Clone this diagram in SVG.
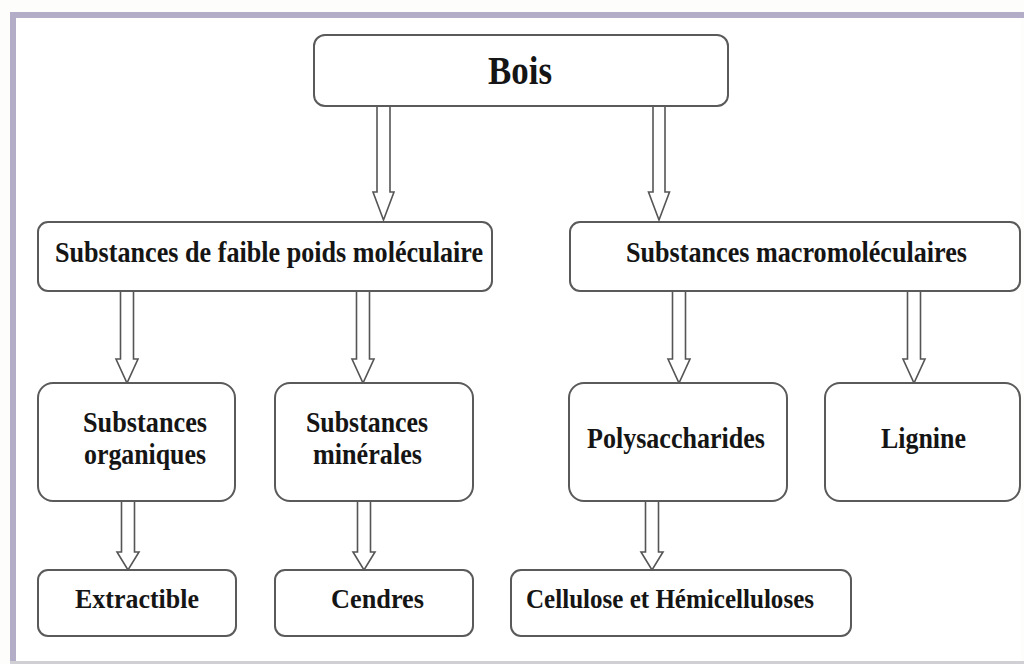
<svg xmlns="http://www.w3.org/2000/svg" width="1024" height="664" viewBox="0 0 1024 664">
  <defs>
    <style>
      .box { fill: #ffffff; stroke: #5a5a5a; stroke-width: 2; }
      .arrow { fill: #ffffff; stroke: #555555; stroke-width: 1.6; stroke-linejoin: miter; }
      .t { font-family: "Liberation Serif", "Times New Roman", serif; font-weight: bold; fill: #151515; text-anchor: middle; }
      .t1 { font-size: 41px; }
      .t2 { font-size: 30px; }
      .t3 { font-size: 30px; }
      .t4 { font-size: 28px; }
    </style>
  </defs>
  <rect x="0" y="0" width="1024" height="664" fill="#fdfdfb"/>
  <g id="frame">
    <rect x="13" y="15" width="1008" height="647" fill="#ffffff"/>
    <line x1="10" y1="15" x2="1024" y2="15" stroke="#b3adc8" stroke-width="6"/>
    <line x1="13" y1="12" x2="13" y2="664" stroke="#b3adc8" stroke-width="6"/>
    <line x1="10" y1="662.5" x2="1024" y2="662.5" stroke="#cfcfd4" stroke-width="3"/>
  </g>
  <g id="connectors">
    <path class="arrow" d="M377,106 V192 H373 L383.5,220 L394,192 H390 V106"/>
    <path class="arrow" d="M653,106 V192 H648.5 L659,220 L669.5,192 H665 V106"/>
    <path class="arrow" d="M120.5,291 V359 H116 L127,383 L138,359 H133.5 V291"/>
    <path class="arrow" d="M356.5,291 V359 H352 L363,383 L374,359 H369.5 V291"/>
    <path class="arrow" d="M672.5,291 V359 H668 L679,383 L690,359 H685.5 V291"/>
    <path class="arrow" d="M907.5,291 V359 H903 L914,383 L925,359 H920.5 V291"/>
    <path class="arrow" d="M121.5,501 V552 H117 L128,570 L139,552 H134.5 V501"/>
    <path class="arrow" d="M357.5,501 V552 H353 L364,570 L375,552 H370.5 V501"/>
    <path class="arrow" d="M645.5,501 V552 H641 L652,570 L663,552 H658.5 V501"/>
  </g>
  <g id="bois">
    <rect class="box" x="314" y="35" width="414" height="71" rx="11"/>
    <text class="t t1" x="520" y="84" textLength="64" lengthAdjust="spacingAndGlyphs">Bois</text>
  </g>
  <g id="faible">
    <rect class="box" x="38" y="222" width="454" height="69" rx="10"/>
    <text class="t t2" x="269" y="262" textLength="428" lengthAdjust="spacingAndGlyphs">Substances de faible poids moléculaire</text>
  </g>
  <g id="macro">
    <rect class="box" x="570" y="222" width="450" height="69" rx="10"/>
    <text class="t t2" x="796.5" y="262" textLength="341" lengthAdjust="spacingAndGlyphs">Substances macromoléculaires</text>
  </g>
  <g id="organiques">
    <rect class="box" x="38" y="383" width="197" height="118" rx="15"/>
    <text class="t t3" x="145" y="432" textLength="124" lengthAdjust="spacingAndGlyphs">Substances</text>
    <text class="t t3" x="145" y="464" textLength="122" lengthAdjust="spacingAndGlyphs">organiques</text>
  </g>
  <g id="minerales">
    <rect class="box" x="275" y="383" width="198" height="118" rx="15"/>
    <text class="t t3" x="367" y="432" textLength="122" lengthAdjust="spacingAndGlyphs">Substances</text>
    <text class="t t3" x="367.5" y="464" textLength="109" lengthAdjust="spacingAndGlyphs">minérales</text>
  </g>
  <g id="polysaccharides">
    <rect class="box" x="569" y="383" width="218" height="118" rx="15"/>
    <text class="t t3" x="676" y="448" textLength="178" lengthAdjust="spacingAndGlyphs">Polysaccharides</text>
  </g>
  <g id="lignine">
    <rect class="box" x="825" y="383" width="195" height="118" rx="15"/>
    <text class="t t3" x="923.5" y="448" textLength="85" lengthAdjust="spacingAndGlyphs">Lignine</text>
  </g>
  <g id="extractible">
    <rect class="box" x="38" y="570" width="198" height="66" rx="10"/>
    <text class="t t4" x="137" y="608" textLength="124" lengthAdjust="spacingAndGlyphs">Extractible</text>
  </g>
  <g id="cendres">
    <rect class="box" x="275" y="570" width="198" height="66" rx="10"/>
    <text class="t t4" x="377.5" y="608" textLength="93" lengthAdjust="spacingAndGlyphs">Cendres</text>
  </g>
  <g id="cellulose">
    <rect class="box" x="511" y="570" width="340" height="66" rx="10"/>
    <text class="t t4" x="670" y="608" textLength="288" lengthAdjust="spacingAndGlyphs">Cellulose et Hémicelluloses</text>
  </g>
</svg>
